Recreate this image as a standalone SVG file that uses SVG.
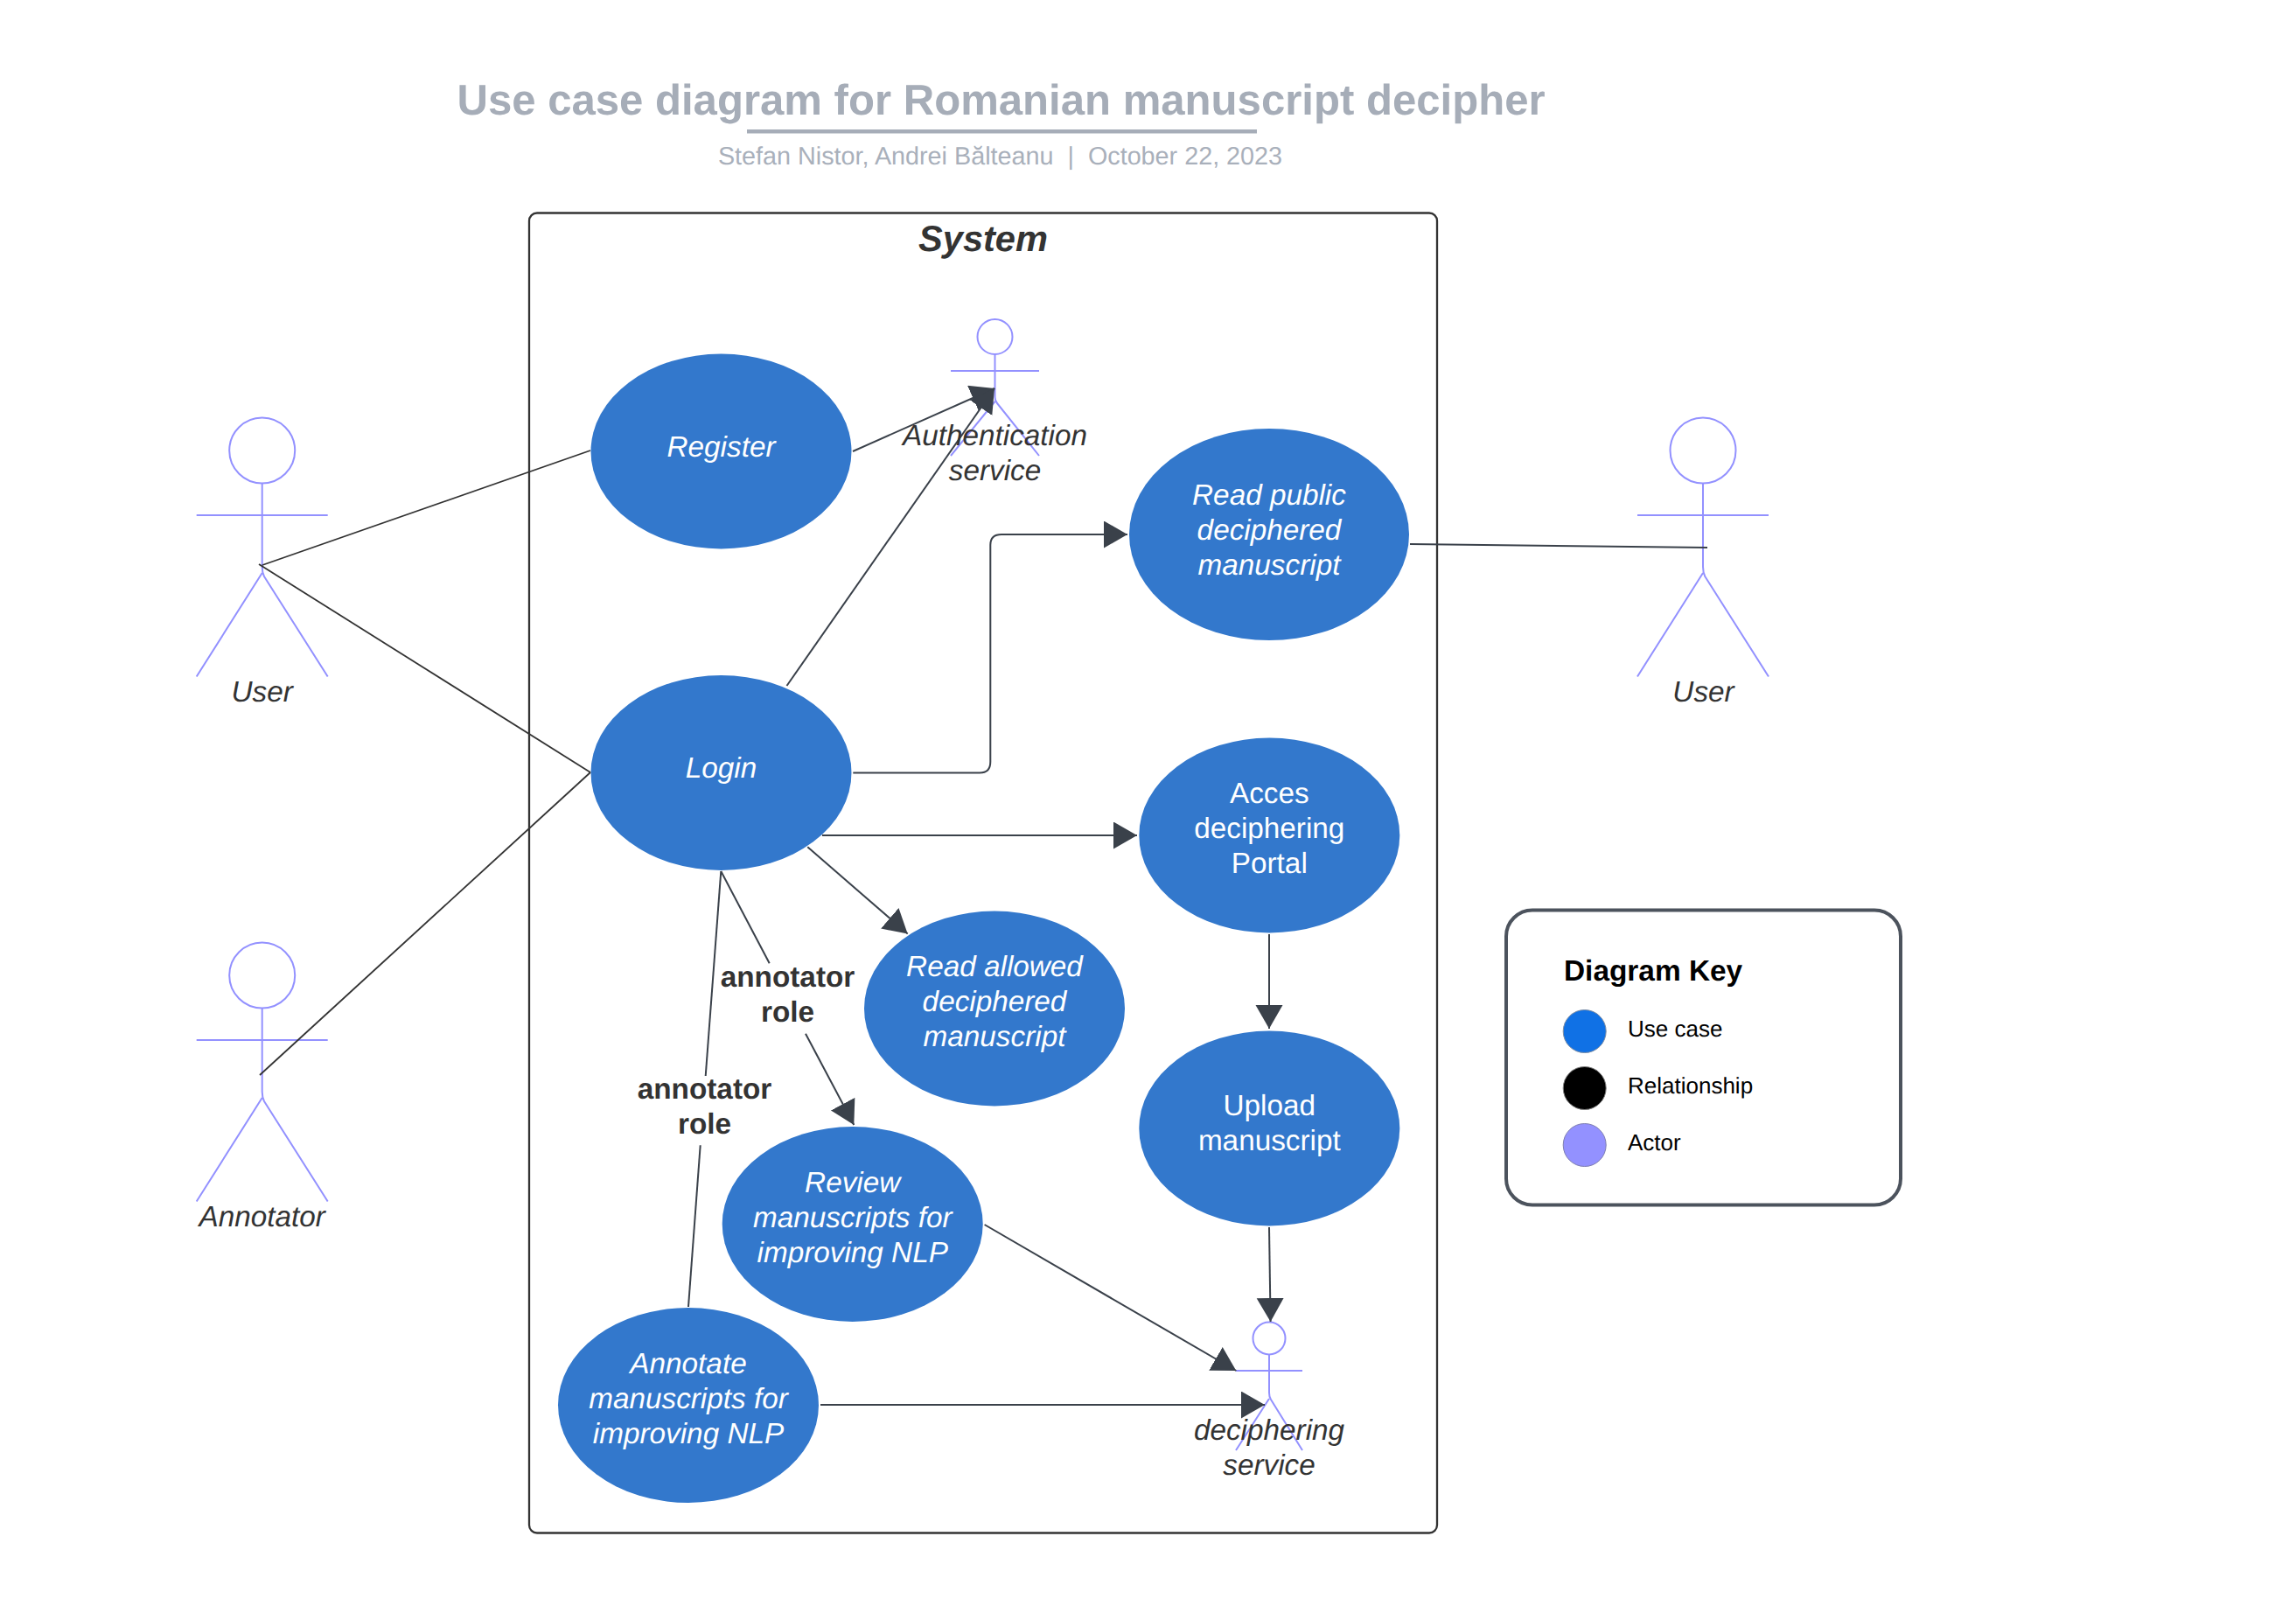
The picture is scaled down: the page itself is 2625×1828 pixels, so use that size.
<svg xmlns="http://www.w3.org/2000/svg" width="2625" height="1828" viewBox="0 0 2625 1828">
<style>
text{font-family:"Liberation Sans",Arial,sans-serif;text-anchor:middle;text-rendering:geometricPrecision}
.uc{fill:#3378cc}
.ut{font-size:33.3px;fill:#fff;font-style:italic}
.un{font-size:33.3px;fill:#fff}
.an{fill:none;stroke:#9391ff;stroke-width:2;stroke-linejoin:round}
.al{font-size:33.3px;fill:#333;font-style:italic}
.c{fill:none;stroke:#3a414a;stroke-width:2}
.d{stroke:#333;stroke-width:1.8}
.a{marker-end:url(#ah)}
.r{font-size:33.3px;font-weight:bold;fill:#333}
.k{font-size:26px;fill:#000;text-anchor:start}
</style>
<defs>
<marker id="ah" markerUnits="userSpaceOnUse" markerWidth="28" markerHeight="32" refX="27" refY="15.5" orient="auto" viewBox="0 0 28 32"><path d="M0 0L27 15.5L0 31Z" fill="#3a414a"/></marker>
</defs>
<rect width="2625" height="1828" fill="#fff"/>
<g id="title">
<text x="1144.5" y="131" font-size="49.1" font-weight="bold" fill="#a6adb8">Use case diagram for Romanian manuscript decipher</text>
<rect x="854" y="148" width="583" height="4.5" fill="#a6adb8"/>
<text x="1143.5" y="188" font-size="28.75" fill="#a9b0bb">Stefan Nistor, Andrei Bălteanu&#160;&#160;|&#160;&#160;October 22, 2023</text>
</g>
<g id="system">
<rect x="605" y="243.5" width="1038" height="1509" rx="9" fill="none" stroke="#333" stroke-width="2.3"/>
<text x="1124" y="287" font-size="41.6" font-weight="bold" font-style="italic" fill="#333">System</text>
</g>
<g id="uc-register"><ellipse class="uc" cx="824.5" cy="516" rx="149" ry="111.5"/><text class="ut" x="824.5" y="521.5">Register</text></g>
<g id="uc-login"><ellipse class="uc" cx="824.5" cy="883.5" rx="149" ry="111.5"/><text class="ut" x="824.5" y="889">Login</text></g>
<g id="uc-read-public"><ellipse class="uc" cx="1451" cy="611" rx="160" ry="121"/><text class="ut" x="1451" y="576.5">Read public</text><text class="ut" x="1451" y="616.5">deciphered</text><text class="ut" x="1451" y="656.5">manuscript</text></g>
<g id="uc-access"><ellipse class="uc" cx="1451.3" cy="955" rx="149" ry="111.5"/><text class="un" x="1451.3" y="918">Acces</text><text class="un" x="1451.3" y="958">deciphering</text><text class="un" x="1451.3" y="998">Portal</text></g>
<g id="uc-upload"><ellipse class="uc" cx="1451.3" cy="1290" rx="149" ry="111.5"/><text class="un" x="1451.3" y="1275">Upload</text><text class="un" x="1451.3" y="1315">manuscript</text></g>
<g id="uc-read-allowed"><ellipse class="uc" cx="1137" cy="1153" rx="149" ry="111.5"/><text class="ut" x="1137" y="1116">Read allowed</text><text class="ut" x="1137" y="1156">deciphered</text><text class="ut" x="1137" y="1196">manuscript</text></g>
<g id="uc-review"><ellipse class="uc" cx="974.7" cy="1399.5" rx="149" ry="111.5"/><text class="ut" x="974.7" y="1362.5">Review</text><text class="ut" x="974.7" y="1402.5">manuscripts for</text><text class="ut" x="974.7" y="1442.5">improving NLP</text></g>
<g id="uc-annotate"><ellipse class="uc" cx="787" cy="1606.5" rx="149" ry="111.5"/><text class="ut" x="787" y="1570">Annotate</text><text class="ut" x="787" y="1610">manuscripts for</text><text class="ut" x="787" y="1650">improving NLP</text></g>
<g id="actor-user-left"><ellipse class="an" cx="299.7" cy="515" rx="37.5" ry="37.5"/><path class="an" d="M224.7 589H374.7M299.7 552.5V648Q299.7 654 302 659L374.7 773.5M299.7 655L224.7 773.5"/><text class="al" x="299.7" y="801.5">User</text></g>
<g id="actor-annotator"><ellipse class="an" cx="299.7" cy="1115" rx="37.5" ry="37.5"/><path class="an" d="M224.7 1189H374.7M299.7 1152.5V1248Q299.7 1254 302 1259L374.7 1373.5M299.7 1255L224.7 1373.5"/><text class="al" x="299.7" y="1402">Annotator</text></g>
<g id="actor-user-right"><ellipse class="an" cx="1947" cy="515" rx="37.5" ry="37.5"/><path class="an" d="M1872 589H2022M1947 552.5V648Q1947 654 1949.3 659L2022 773.5M1947 655L1872 773.5"/><text class="al" x="1947.5" y="801.5">User</text></g>
<g id="actor-auth"><ellipse class="an" cx="1137.5" cy="385" rx="20" ry="20"/><path class="an" d="M1087 424H1188M1137.5 405V454Q1137.5 458 1140 461L1188 521M1137.5 459L1087 521"/></g>
<g id="actor-decipher"><ellipse class="an" cx="1451" cy="1530" rx="18.5" ry="18.5"/><path class="an" d="M1413 1567H1489M1451 1548.5V1592Q1451 1597 1453 1600L1489 1658M1451 1599L1413 1658"/></g>
<g id="connectors">
<path class="c d" d="M300 646L675 515"/>
<path class="c d" d="M296 645L675 883"/>
<path class="c d" d="M297 1229L675 883"/>
<path class="c" d="M1612 622L1952 626"/>
<path class="c a" d="M975 516L1137 444"/>
<path class="c a" d="M899.5 784L1137 444"/>
<path class="c a" d="M975.3 883.5H1120Q1132.3 883.5 1132.3 871V623Q1132.3 611 1145 611H1289"/>
<path class="c a" d="M940 955H1300"/>
<path class="c a" d="M923.3 968.3L1037.7 1067.5"/>
<path class="c a" d="M1451 1068V1176"/>
<path class="c a" d="M1451 1403L1452.6 1511"/>
<path class="c a" d="M1125.6 1400L1413.3 1567"/>
<path class="c a" d="M938 1606H1446"/>
<path class="c" d="M824.3 996L879.7 1101.3"/>
<path class="c a" d="M921 1181.7L976.3 1286"/>
<path class="c" d="M824.3 996L806.7 1230"/>
<path class="c" d="M800.7 1309.3L787 1494"/>
<text class="r" x="900.5" y="1128">annotator</text><text class="r" x="900.5" y="1168">role</text>
<text class="r" x="805.5" y="1256">annotator</text><text class="r" x="805.5" y="1296">role</text>
</g>
<g id="actor-labels">
<text class="al" x="1137.5" y="509">Authentication</text><text class="al" x="1137.5" y="549">service</text>
<text class="al" x="1451" y="1646">deciphering</text><text class="al" x="1451" y="1686">service</text>
</g>
<g id="legend">
<rect x="1722" y="1040.5" width="451" height="337" rx="30" fill="#fff" stroke="#4c535d" stroke-width="4"/>
<text x="1788" y="1121" font-size="33.4" font-weight="bold" style="text-anchor:start">Diagram Key</text>
<circle cx="1811.7" cy="1179" r="24.5" fill="#1071e5" stroke="#7f8ea3" stroke-width="1"/>
<circle cx="1811.7" cy="1244" r="24.5" fill="#000" stroke="#7f7f7f" stroke-width="1"/>
<circle cx="1811.7" cy="1309" r="24.5" fill="#9391ff" stroke="#7f7fb0" stroke-width="1"/>
<text class="k" x="1861" y="1185">Use case</text>
<text class="k" x="1861" y="1250">Relationship</text>
<text class="k" x="1861" y="1315">Actor</text>
</g>
</svg>
